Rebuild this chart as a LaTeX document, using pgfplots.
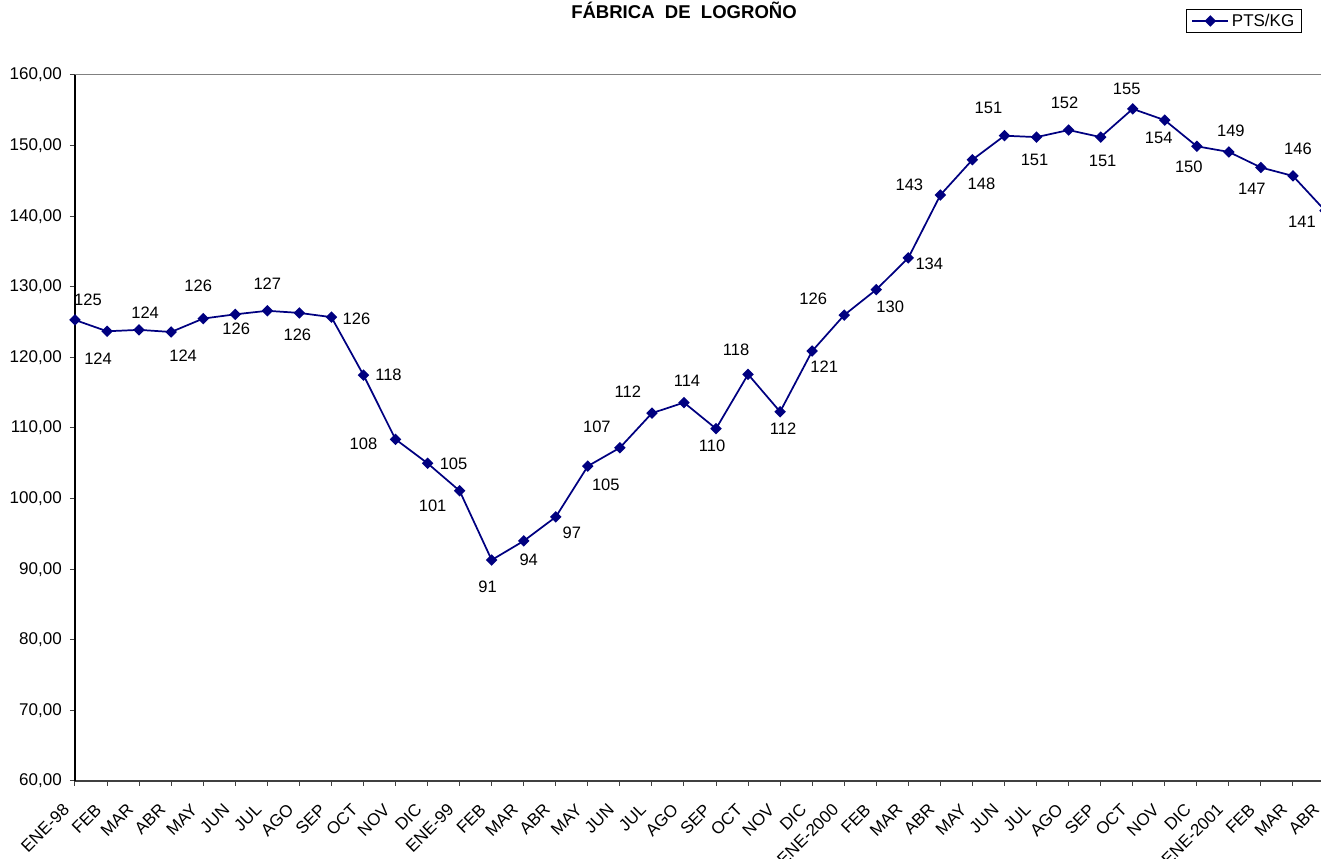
\documentclass[border=0pt]{standalone}
\usepackage{pgfplots}
\pgfplotsset{compat=1.18}
\usepackage{pgfplotstable}
\usepackage{fontspec}
\setmainfont{Liberation Sans}
\definecolor{navy}{HTML}{000080}

\pgfplotstableread{
x y dx dy lab
0 125.3 13 20 125
1 123.7 -9 -27 124
2 123.9 6 17 124
3 123.6 12 -24 124
4 125.5 -5 33 126
5 126.1 1 -14 126
6 126.6 0 27 127
7 126.3 -2 -22 126
8 125.7 25 -2 126
9 117.5 25 0 118
10 108.4 -32 -5 108
11 105.0 26 -1 105
12 101.1 -27 -15 101
13 91.3 -4 -27 91
14 94.0 5 -19 94
15 97.4 16 -16 97
16 104.6 18 -19 105
17 107.2 -23 21 107
18 112.1 -24 21 112
19 113.6 3 22 114
20 109.9 -4 -17 110
21 117.6 -12 25 118
22 112.3 3 -17 112
23 120.9 12 -16 121
24 126.0 -31 16 126
25 129.6 14 -17 130
26 134.1 21 -6 134
27 143.0 -31 10 143
28 148.0 9 -24 148
29 151.4 -16 28 151
30 151.2 -2 -23 151
31 152.2 -4 27 152
32 151.2 2 -24 151
33 155.2 -6 20 155
34 153.6 -6 -18 154
35 149.9 -8 -21 150
36 149.1 2 21 149
37 146.9 -9 -21 147
38 145.7 5 27 146
39 140.8 -23 -11 141
}\datatable

\begin{document}
\begin{tikzpicture}
\begin{axis}[
  at={(0pt,0pt)}, anchor=south west,
  scale only axis,
  width=937.5pt,
  height=529.5pt,
  xmin=0, xmax=39,
  ymin=60, ymax=160,
  clip=false,
  axis x line=bottom, axis y line=left,
  axis line style={-},
  x axis line style={draw=black!75, line width=1pt},
  y axis line style={draw=black, line width=0.9pt},
  tick align=outside,
  major tick length=3.75pt,
  tick style={black!75, line width=0.75pt},
  xtick={0,...,39},
  xticklabels={ENE-98,FEB,MAR,ABR,MAY,JUN,JUL,AGO,SEP,OCT,NOV,DIC,ENE-99,FEB,MAR,ABR,MAY,JUN,JUL,AGO,SEP,OCT,NOV,DIC,ENE-2000,FEB,MAR,ABR,MAY,JUN,JUL,AGO,SEP,OCT,NOV,DIC,ENE-2001,FEB,MAR,ABR},
  ytick={60,70,...,160},
  tick label style={font=\fontsize{12.75}{14}\selectfont},
  yticklabel style={/pgf/number format/.cd, fixed, fixed zerofill, precision=2, use comma, assume math mode=true, /tikz/.cd, anchor=east, inner sep=0pt, xshift=-6pt},
  xticklabel style={xshift=-6.5pt, yshift=-15.5pt, rotate=45, anchor=east, inner sep=0pt},
  title={FÁBRICA\ \ DE\ \ LOGROÑO},
  title style={at={(axis description cs:0.4872,1.0807)}, anchor=center, font=\fontsize{13.9}{16}\selectfont\bfseries},
  legend style={at={(axis description cs:0.9816,1.0935)}, anchor=north east, draw=black, line width=0.6pt, font=\fontsize{12.75}{14}\selectfont, inner xsep=3.5pt, inner ysep=1.3pt},
  legend image code/.code={\draw[mark repeat=2,mark phase=2,#1] plot coordinates {(0pt,0pt) (13.5pt,0pt) (27pt,0pt)};},
]
\draw[black!50, line width=0.75pt] (rel axis cs:0,1) -- (rel axis cs:1,1);
\addplot[navy, line width=1.3pt, mark=square*, mark size=2.4pt,
  mark options={rotate=45, solid, fill=navy},
  point meta=explicit symbolic,
  nodes near coords,
  visualization depends on={\thisrow{dx}\as\dx},
  visualization depends on={\thisrow{dy}\as\dy},
  every node near coord/.append style={anchor=center, inner sep=0pt, text=black, font=\fontsize{12.4}{14}\selectfont, xshift={0.75pt*(\dx)}, yshift={0.75pt*(\dy)}},
] table[x=x, y=y, meta=lab] {\datatable};
\addlegendentry{PTS/KG}
\end{axis}
\pgfresetboundingbox
\useasboundingbox (-56.25pt,-58.5pt) rectangle (934.5pt,585.75pt);
\end{tikzpicture}
\end{document}
